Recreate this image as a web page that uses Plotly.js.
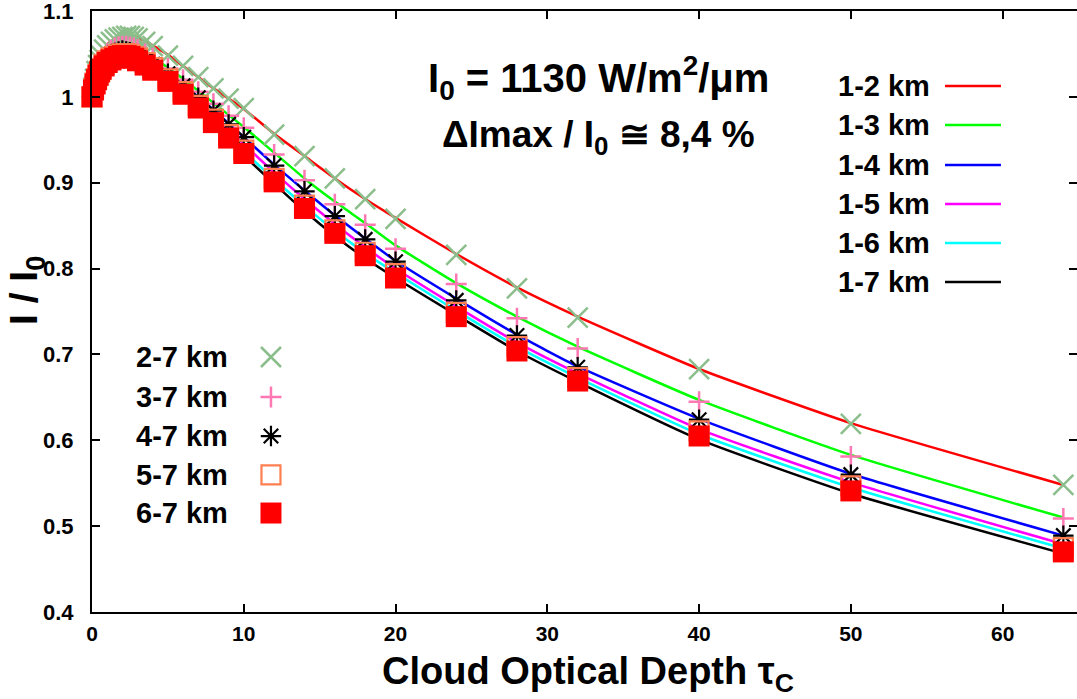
<!DOCTYPE html>
<html>
<head>
<meta charset="utf-8">
<script src="https://cdn.plot.ly/plotly-3.0.1.min.js"></script>
<style>html,body{margin:0;padding:0;background:#fff;}#chart{width:1077px;height:699px;}</style>
</head>
<body>
<div id="chart"></div>
<script>
// Cloud optical depth values (shared by all series)
const tau = [0,0.1,0.2,0.3,0.4,0.5,0.6,0.8,1,1.25,1.5,1.75,2,2.25,2.5,2.75,3,3.5,4,5,6,7,8,9,10,12,14,16,18,20,24,28,32,40,50,64];

// Line series (I / I0)
const km1_2 = [1.000,1.012,1.022,1.031,1.038,1.044,1.049,1.056,1.061,1.065,1.068,1.070,1.071,1.072,1.072,1.071,1.069,1.065,1.060,1.049,1.036,1.023,1.010,0.998,0.986,0.957,0.931,0.905,0.881,0.859,0.817,0.778,0.744,0.683,0.620,0.548];
const km1_3 = [1.000,1.010,1.019,1.026,1.032,1.037,1.041,1.047,1.051,1.055,1.058,1.059,1.060,1.060,1.060,1.058,1.056,1.051,1.046,1.034,1.021,1.007,0.993,0.979,0.965,0.935,0.905,0.878,0.853,0.827,0.783,0.744,0.709,0.647,0.583,0.510];
const km1_4 = [1.000,1.009,1.017,1.023,1.029,1.033,1.037,1.042,1.046,1.049,1.052,1.053,1.054,1.054,1.053,1.051,1.049,1.044,1.039,1.028,1.014,1.000,0.985,0.969,0.953,0.921,0.891,0.862,0.835,0.809,0.765,0.723,0.686,0.625,0.561,0.489];
const km1_5 = [1.000,1.009,1.016,1.022,1.027,1.031,1.035,1.040,1.044,1.047,1.049,1.051,1.052,1.052,1.051,1.049,1.047,1.042,1.036,1.024,1.010,0.995,0.979,0.962,0.945,0.912,0.881,0.852,0.825,0.800,0.756,0.714,0.678,0.613,0.551,0.479];
const km1_6 = [1.000,1.008,1.016,1.021,1.026,1.030,1.033,1.038,1.042,1.045,1.047,1.049,1.050,1.050,1.049,1.047,1.044,1.039,1.033,1.020,1.005,0.989,0.973,0.955,0.937,0.904,0.873,0.844,0.818,0.795,0.751,0.709,0.673,0.607,0.545,0.474];
const km1_7 = [1.000,1.008,1.015,1.020,1.025,1.028,1.031,1.036,1.039,1.042,1.044,1.046,1.047,1.047,1.046,1.044,1.041,1.036,1.030,1.017,1.001,0.985,0.968,0.950,0.932,0.899,0.867,0.838,0.812,0.789,0.746,0.704,0.668,0.601,0.538,0.468];

// Point series (I / I0)
const km2_7 = [1.000,1.011,1.021,1.030,1.037,1.043,1.048,1.055,1.060,1.064,1.067,1.069,1.070,1.071,1.071,1.070,1.068,1.064,1.059,1.048,1.036,1.023,1.010,0.998,0.987,0.956,0.931,0.905,0.881,0.858,0.816,0.777,0.743,0.683,0.619,0.548];
const km3_7 = [1.000,1.009,1.018,1.025,1.031,1.036,1.040,1.046,1.050,1.054,1.057,1.058,1.059,1.059,1.058,1.057,1.055,1.050,1.045,1.033,1.020,1.006,0.992,0.978,0.964,0.933,0.903,0.875,0.851,0.823,0.782,0.742,0.707,0.645,0.581,0.509];
const km4_7 = [1.000,1.009,1.016,1.023,1.028,1.033,1.036,1.041,1.045,1.049,1.051,1.053,1.054,1.053,1.052,1.050,1.048,1.043,1.038,1.027,1.013,0.999,0.984,0.968,0.953,0.920,0.890,0.861,0.834,0.808,0.763,0.722,0.685,0.624,0.560,0.489];
const km5_7 = [1.000,1.009,1.016,1.021,1.026,1.030,1.033,1.038,1.042,1.045,1.047,1.049,1.050,1.050,1.049,1.047,1.045,1.040,1.034,1.021,1.006,0.990,0.974,0.956,0.938,0.905,0.874,0.845,0.819,0.794,0.749,0.709,0.673,0.611,0.547,0.475];
const km6_7 = [1.000,1.008,1.015,1.020,1.025,1.029,1.032,1.036,1.040,1.043,1.045,1.047,1.048,1.048,1.047,1.045,1.042,1.037,1.031,1.018,1.003,0.987,0.970,0.952,0.934,0.901,0.870,0.841,0.815,0.789,0.744,0.704,0.669,0.605,0.541,0.470];

const lineNames = ["1-2 km","1-3 km","1-4 km","1-5 km","1-6 km","1-7 km"];
const lineData = [km1_2,km1_3,km1_4,km1_5,km1_6,km1_7];
const lineColors = ["#ff0000","#00ff00","#0000ff","#ff00ff","#00ffff","#000000"];

const ptNames = ["2-7 km","3-7 km","4-7 km","5-7 km","6-7 km"];
const ptData = [km2_7,km3_7,km4_7,km5_7,km6_7];
const ptStyles = [
  {symbol:"x-thin-open", color:"#8cbe8c", lw:2.5, size:20},
  {symbol:"cross-thin-open", color:"#ff78b4", lw:2.5, size:15},
  {symbol:"asterisk-open", color:"#000000", lw:2.2, size:17},
  {symbol:"square-open", color:"#ff7f50", lw:2.2, size:19},
  {symbol:"square", color:"#ff0000", lw:0, size:21}
];

const traces = [];
lineData.forEach((d,i)=>{
  traces.push({x:tau, y:d, name:lineNames[i], mode:"lines", type:"scatter",
    line:{color:lineColors[i], width:2.5, shape:"spline", smoothing:0.5}, showlegend:false, hoverinfo:"skip"});
});
ptData.forEach((d,i)=>{
  const s = ptStyles[i];
  traces.push({x:tau, y:d, name:ptNames[i], mode:"markers", type:"scatter", cliponaxis:false,
    marker:{symbol:s.symbol, size:s.size, color:s.color, line:{width:s.lw, color:s.color}}, showlegend:false, hoverinfo:"skip"});
});

// Legend layout (paper coordinates)
const F = "Liberation Sans, Arial, Helvetica, sans-serif";
const leg1Y = [0.8752,0.8103,0.7438,0.6789,0.6140,0.5491];
const leg2Y = [0.4243,0.3577,0.2928,0.2280,0.1647];
const annotations = [];
const shapes = [];
lineNames.forEach((n,i)=>{
  annotations.push({xref:"paper", yref:"paper", x:0.8528, y:leg1Y[i], xanchor:"right", yanchor:"middle", showarrow:false,
    text:n, font:{family:F, size:29, color:"#000", weight:"bold"}});
  shapes.push({type:"line", xref:"paper", yref:"paper", x0:0.866, x1:0.9228, y0:leg1Y[i], y1:leg1Y[i],
    line:{color:lineColors[i], width:2.5}});
});
ptNames.forEach((n,i)=>{
  annotations.push({xref:"paper", yref:"paper", x:0.1401, y:leg2Y[i], xanchor:"right", yanchor:"middle", showarrow:false,
    text:n, font:{family:F, size:29, color:"#000", weight:"bold"}});
  const s = ptStyles[i];
  traces.push({x:[0.1817], y:[leg2Y[i]], xaxis:"x2", yaxis:"y2", mode:"markers", type:"scatter", cliponaxis:false,
    marker:{symbol:s.symbol, size:s.size, color:s.color, line:{width:s.lw, color:s.color}}, showlegend:false, hoverinfo:"skip"});
});
annotations.push({xref:"paper", yref:"paper", x:0.5147, y:0.8885, xanchor:"center", yanchor:"middle", showarrow:false,
  text:"I<sub>0</sub> = 1130 W/m<sup>2</sup>/μm", font:{family:F, size:40, color:"#000", weight:"bold"}});
annotations.push({xref:"paper", yref:"paper", x:0.5147, y:0.7903, xanchor:"center", yanchor:"middle", showarrow:false,
  text:"ΔImax / I<sub>0</sub> ≅ 8,4 %", font:{family:F, size:37, color:"#000", weight:"bold"}});
annotations.push({xref:"paper", yref:"paper", x:0.5036, y:-0.1032, xanchor:"center", yanchor:"middle", showarrow:false,
  text:"Cloud Optical Depth τ<sub>C</sub>", font:{family:F, size:38, color:"#000", weight:"bold"}});
annotations.push({xref:"paper", yref:"paper", x:-0.066, y:0.5358, xanchor:"center", yanchor:"middle", showarrow:false, textangle:-90,
  text:"I / I<sub>0</sub>", font:{family:F, size:39, color:"#000", weight:"bold"}});

const axisCommon = {showgrid:false, zeroline:false, showline:true, linecolor:"#000", linewidth:2, mirror:"ticks",
  ticks:"inside", ticklen:8, tickwidth:2, tickcolor:"#000", ticklabeloverflow:"allow"};

const layout = {
  width:1077, height:699,
  margin:{l:92, r:0, t:11, b:87},
  paper_bgcolor:"#fff", plot_bgcolor:"#fff",
  showlegend:false,
  xaxis:Object.assign({}, axisCommon, {range:[0,64.9], tickvals:[0,10,20,30,40,50,60], ticklabelstandoff:2,
    tickfont:{family:F, size:21, color:"#000", weight:"bold"}}),
  yaxis:Object.assign({}, axisCommon, {range:[0.4,1.1], tickvals:[0.4,0.5,0.6,0.7,0.8,0.9,1,1.1], ticklabelstandoff:12,
    tickfont:{family:F, size:22, color:"#000", weight:"bold"}}),
  xaxis2:{overlaying:"x", range:[0,1], visible:false, fixedrange:true},
  yaxis2:{overlaying:"y", range:[0,1], visible:false, fixedrange:true},
  annotations:annotations,
  shapes:shapes
};

Plotly.newPlot("chart", traces, layout, {staticPlot:true, displayModeBar:false});
</script>
</body>
</html>
